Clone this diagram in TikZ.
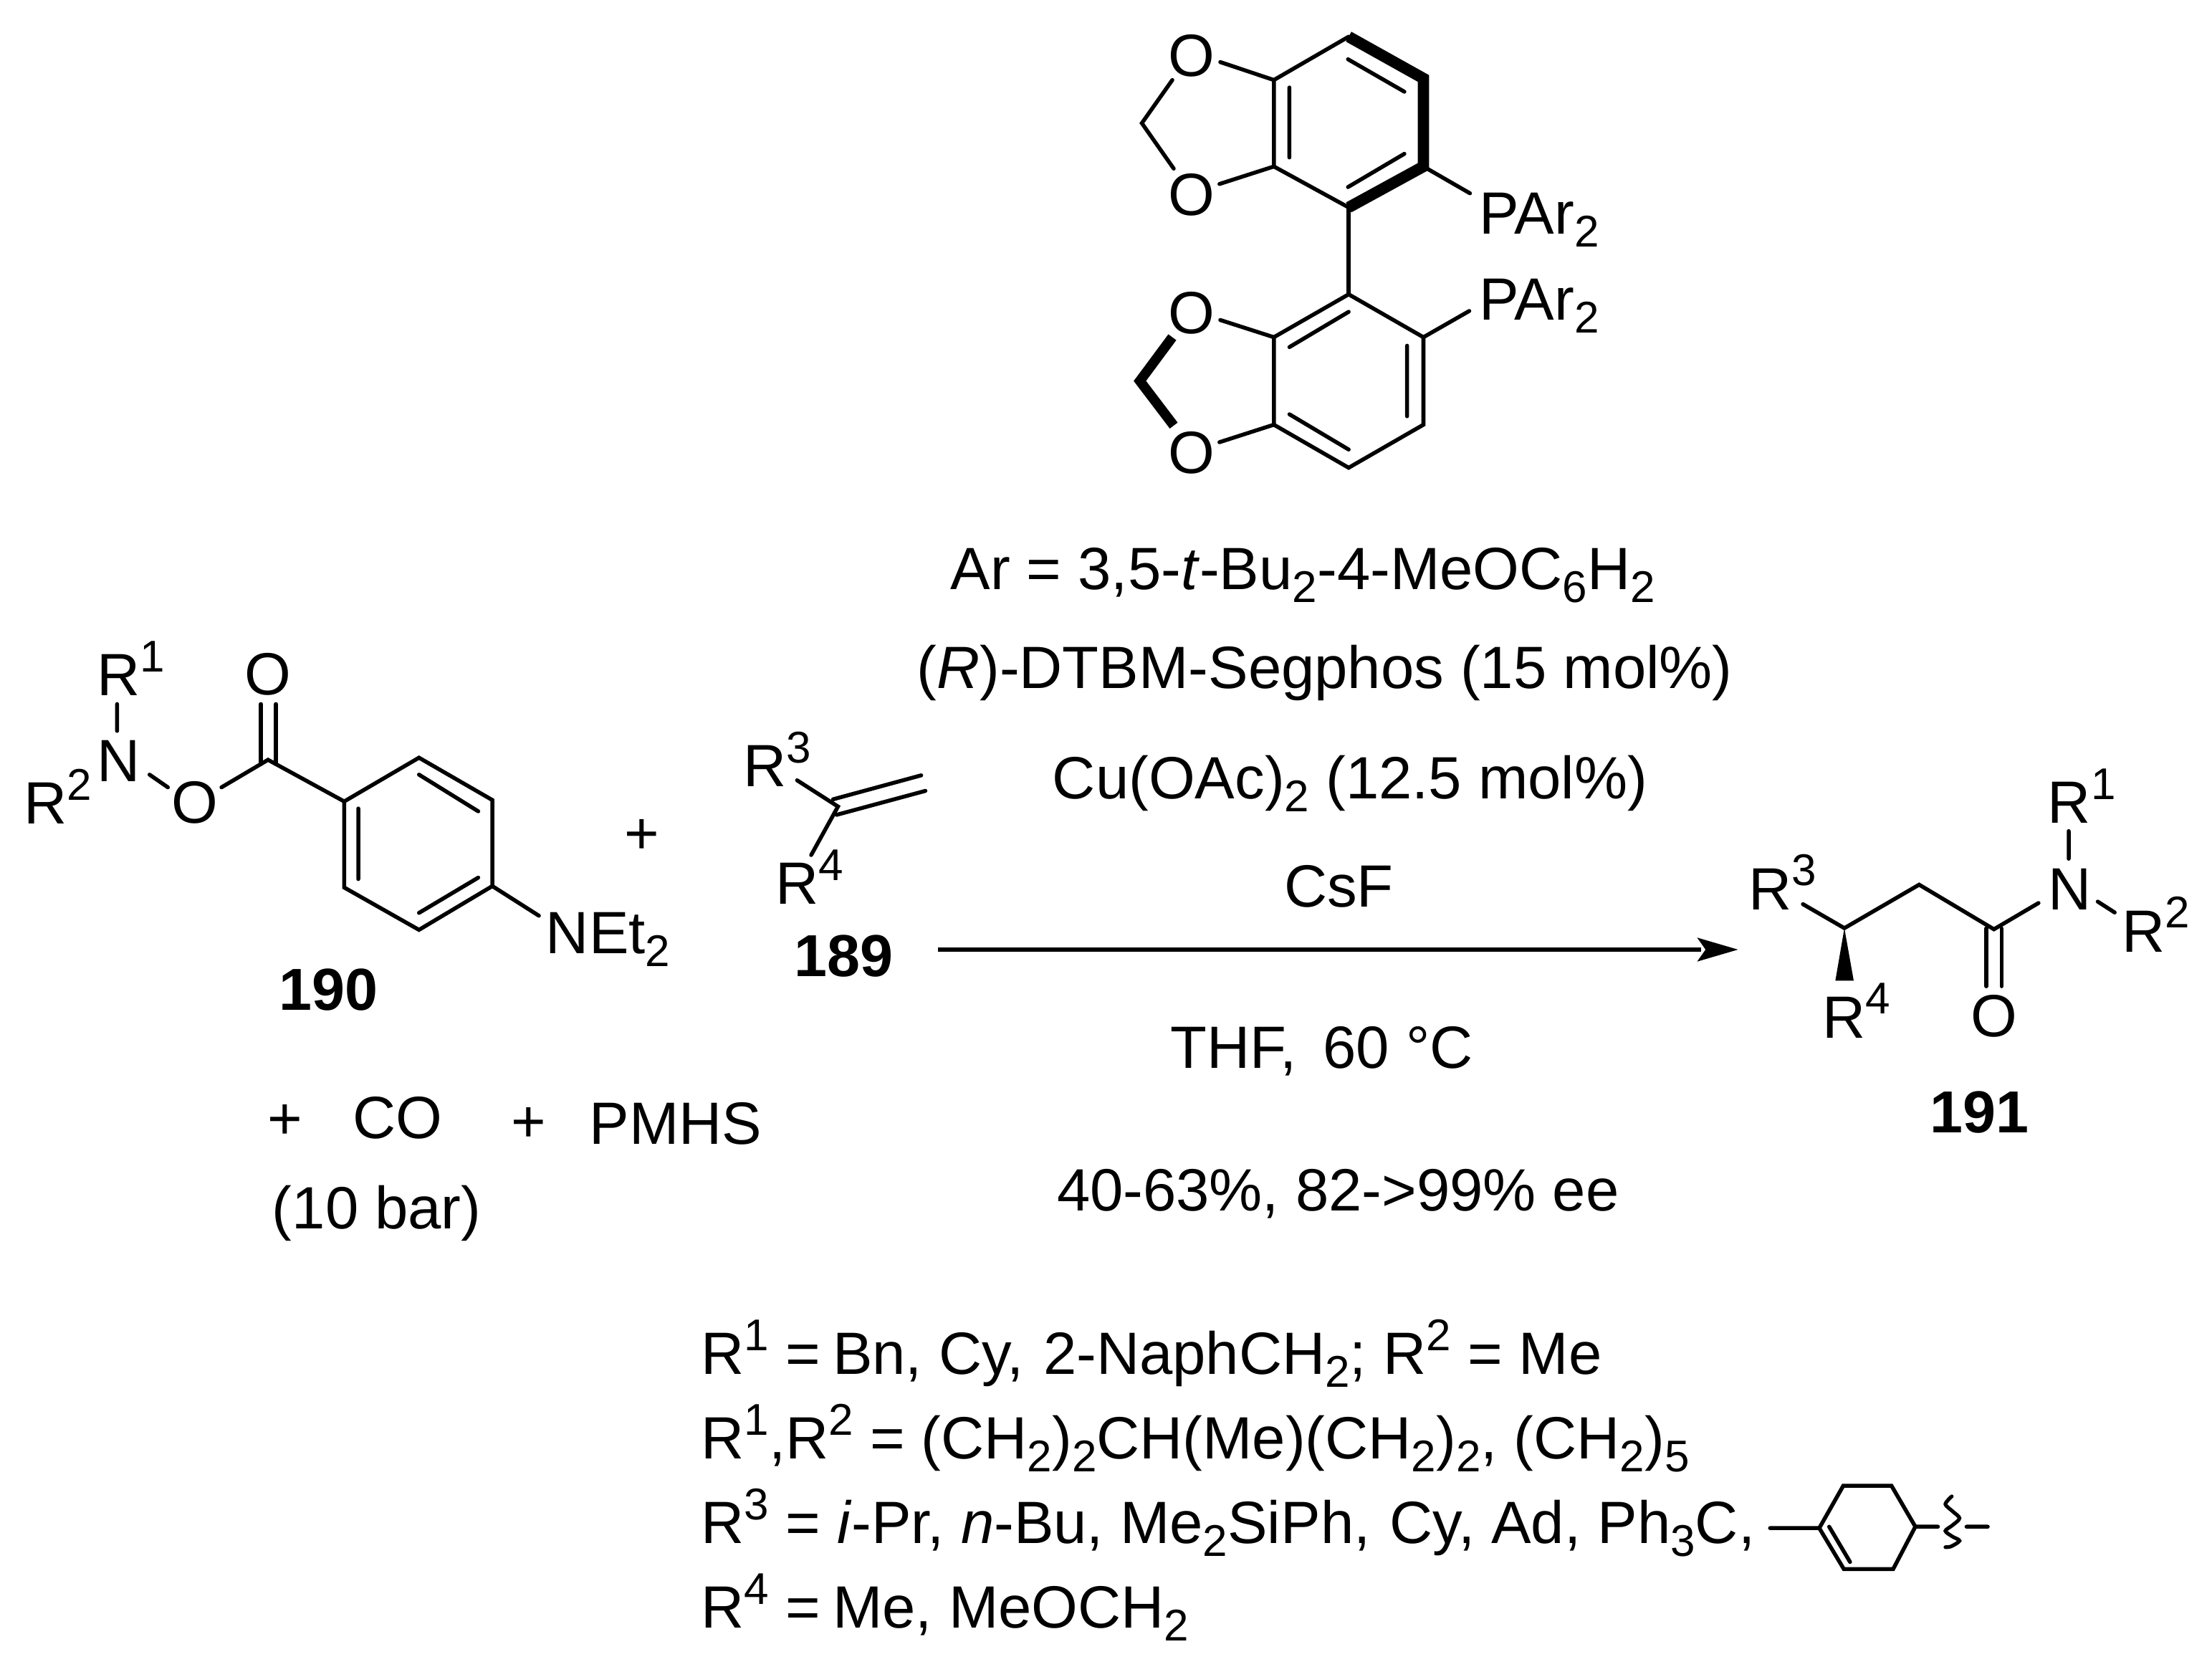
\documentclass[tikz,border=0pt]{standalone}
\usepackage{fontspec}
\setmainfont{Liberation Sans}
\newcommand{\sbs}[1]{\raisebox{-9pt}{\fontsize{31.5}{31.5}\selectfont #1}}
\newcommand{\sps}[1]{\raisebox{17pt}{\fontsize{31.5}{31.5}\selectfont #1}}
\tikzset{
  bond/.style={line width=2.8pt,line cap=round,line join=miter},
  heavy/.style={line width=8pt,line cap=butt,line join=miter},
  heavyb/.style={line width=7pt,line cap=butt,line join=miter},
  txt/.style={inner sep=0pt,outer sep=0pt,font=\fontsize{42.3}{42.3}\selectfont,anchor=base west},
  ctr/.style={txt,anchor=base},
  atom/.style={txt,anchor=center},
  bnum/.style={txt,font=\fontsize{42}{42}\selectfont\bfseries},
}
\begin{document}
\begin{tikzpicture}[x=1pt,y=-1pt]
\useasboundingbox (0,0) rectangle (1568,1181);
\fill[white] (0,0) rectangle (1568,1181);
% --- ligand: upper ring
\foreach \n/\x/\y in {a1/903/56.7,a2/956/26,a3/1009/55.6,a4/1009/118,a5/956/147,a6/903/118,
 b1/903/239,b2/956/208.6,b3/1009/239,b4/1009/301,b5/956/331.5,b6/903/301,
 ch1/809.4/87.3,ch2/808/270,
 oa1/865/44,oa2/864.4/130.4,ob1/865/226.8,ob2/864.4/313.4,
 ca1/831/56.7,ca2/832/119.5,cb1/831/239,cb2/832/301.6,
 pa/1042/137,pb/1041.5/220.4,
 ai1/955.5/42,ai2/995.5/65,ai3/955.5/132.6,ai4/995.5/109,ai5/914/62,ai6/914/111.6,
 bi1/914/246,bi2/956/221,bi3/997.4/245,bi4/997.4/295,bi5/914/293.6,bi6/956/318.6}
 {\coordinate (\n) at (\x,\y);}
\node[atom] (O1) at (844.6,39.7) {O};
\node[atom] (O2) at (844.6,138.3) {O};
\node[atom] (O3) at (844.6,222) {O};
\node[atom] (O4) at (844.6,321) {O};
\node[txt] (P1) at (1048.6,166) {PAr\sbs{2}};
\node[txt] (P2) at (1048.6,227) {PAr\sbs{2}};
\draw[bond] (a2)--(a1)--(a6)--(a5);
\draw[heavy] (a2)--(a3)--(a4)--(a5);
\draw[bond] (ai1)--(ai2) (ai3)--(ai4) (ai5)--(ai6);
\draw[bond] (a5)--(b2);
\draw[bond] (b1)--(b2)--(b3)--(b4)--(b5)--(b6)--cycle;
\draw[bond] (bi1)--(bi2) (bi3)--(bi4) (bi5)--(bi6);
\draw[bond] (oa1)--(a1) (oa2)--(a6) (ob1)--(b1) (ob2)--(b6);
\draw[bond] (ca1)--(ch1)--(ca2);
\draw[heavyb] (cb1)--(ch2)--(cb2);
\draw[bond] (a4)--(pa) (b3)--(pb);
% --- reaction text
\node[ctr] (t1) at (923.5,418) {Ar = 3,5-\textit{t}-Bu\sbs{2}-4-MeOC\sbs{6}H\sbs{2}};
\node[ctr] (t2) at (939,488) {(\textit{R})-DTBM-Segphos (15 mol\%)};
\node[ctr] (t3) at (957,566) {Cu(OAc)\sbs{2} (12.5 mol\%)};
\node[ctr] (t4) at (949,643) {CsF};
\node[ctr] (t5) at (937,757) {THF,\, 60 °C};
\node[ctr] (t6) at (948.5,858) {40-63\%, 82->99\% ee};
\coordinate (arrS) at (665,673);
\coordinate (arrE) at (1206,673);
\coordinate (arrT) at (1232,673);
\draw[line width=2.6pt] (arrS)--(arrE);
\fill (arrT)--(1203,664.5)--(1209,673)--(1203,681.5)--cycle;
% --- 190
\foreach \n/\x/\y in {c0/190/538.5,r1/244/568,r2/297/537,r3/349/567,r4/349/628,r5/297/659,r6/244/629,
 n1a/83/499,n1b/83/518,n2a/106/549,n2b/119/558,oc/157/558,
 d1a/185/499,d1b/185/541.5,d2a/195.5/499,d2b/195.5/541.5,
 ri1/297/549,ri2/339/575,ri3/339/622,ri4/297/647,ri5/254/573,ri6/254/623,
 ne/382/649}
 {\coordinate (\n) at (\x,\y);}
\node[txt] (R1a) at (69,493) {R\sps{1}};
\node[txt] (Na) at (69,554) {N};
\node[txt] (R2a) at (17,584) {R\sps{2}};
\node[atom] (Oa) at (138,569) {O};
\node[atom] (Ob) at (190,478) {O};
\node[txt] (NEt) at (387,676) {NEt\sbs{2}};
\draw[bond] (n1a)--(n1b) (n2a)--(n2b) (oc)--(c0)--(r1);
\draw[bond] (d1a)--(d1b) (d2a)--(d2b);
\draw[bond] (r1)--(r2)--(r3)--(r4)--(r5)--(r6)--cycle;
\draw[bond] (ri1)--(ri2) (ri3)--(ri4) (ri5)--(ri6);
\draw[bond] (r4)--(ne);
\node[bnum,anchor=base] (n190) at (233,716) {190};
\node[atom] (plus1) at (455,593) {+};
% --- 189
\foreach \n/\x/\y in {e0/594/571.6,e1/565/553,e2a/590.5/566.5,e2b/653/549.5,e3a/593/577.5,e3b/656/560.5,e4/575/606}
 {\coordinate (\n) at (\x,\y);}
\node[txt] (R3a) at (527,557.5) {R\sps{3}};
\node[txt] (R4a) at (550,641) {R\sps{4}};
\draw[bond] (e1)--(e0)--(e4);
\draw[bond] (e2a)--(e2b) (e3a)--(e3b);
\node[bnum,anchor=base] (n189) at (598,692) {189};
% --- lower left
\node[atom] (plus2) at (202,795) {+};
\node[txt] (co) at (250,807) {CO};
\node[atom] (plus3) at (375,797) {+};
\node[txt] (pmhs) at (418,811) {PMHS};
\node[txt] (bar) at (193,871) {(10 bar)};
% --- 191
\foreach \n/\x/\y in {g1/1278/640.8,g2/1307.4/657.8,g3/1360.4/627,g4/1413.4/658.6,g5/1445/640,
 h1/1466.4/589,h2/1466.4/608.6,h3/1487/639,h4/1499/646.7,
 k1a/1408/658,k1b/1408/699,k2a/1418.8/658,k2b/1418.8/699,
 w1/1301/695,w2/1314/695}
 {\coordinate (\n) at (\x,\y);}
\node[txt] (R1c) at (1451.6,583.6) {R\sps{1}};
\node[txt] (Nc) at (1452,644.7) {N};
\node[txt] (R2c) at (1504.4,674.7) {R\sps{2}};
\node[txt] (R3c) at (1239.4,644.7) {R\sps{3}};
\node[txt] (R4c) at (1292,735.6) {R\sps{4}};
\node[atom] (Oc) at (1413.4,720) {O};
\draw[bond] (g1)--(g2)--(g3)--(g4)--(g5);
\draw[bond] (h1)--(h2) (h3)--(h4);
\draw[bond] (k1a)--(k1b) (k2a)--(k2b);
\fill (g2)--(w1)--(w2)--cycle;
\node[bnum,anchor=base] (n191) at (1403,803) {191};
% --- definitions
\node[txt] (l1) at (497,974) {R\sps{1} =\hspace{-3pt} Bn, Cy,\hspace{2pt} 2-NaphCH\sbs{2}; R\sps{2} = Me};
\node[txt] (l2) at (497,1034) {R\sps{1},R\sps{2} = (CH\sbs{2})\sbs{2}CH(Me)(CH\sbs{2})\sbs{2}, (CH\sbs{2})\sbs{5}};
\node[txt] (l3) at (497,1094) {R\sps{3} = \textit{i}-Pr, \textit{n}-Bu, Me\sbs{2}SiPh,\hspace{2pt} Cy, Ad, Ph\sbs{3}C,};
\node[txt] (l4) at (497,1154) {R\sps{4} =\hspace{-3pt} Me, MeOCH\sbs{2}};
% --- cyclohexenyl
\foreach \n/\x/\y in {s1/1289.6/1083,s2/1306.6/1053,s3/1340.8/1053,s4/1357.7/1082,s5/1342/1112,s6/1307/1112,
 s0/1254.7/1083,si1/1296.6/1082,si2/1311.4/1107,s7/1373.7/1082,s8/1394/1082,s9/1409/1082}
 {\coordinate (\n) at (\x,\y);}
\draw[bond] (s1)--(s2)--(s3)--(s4)--(s5)--(s6)--cycle;
\draw[bond] (s0)--(s1) (si1)--(si2) (s4)--(s7) (s8)--(s9);
\draw[bond,line width=2.6pt] plot[smooth] coordinates {(1383.5,1060.5) (1379,1066) (1384,1071) (1389,1076) (1384,1081) (1379,1085) (1384,1089) (1389,1092) (1383,1096) (1379,1096.5)};
\end{tikzpicture}
\end{document}
